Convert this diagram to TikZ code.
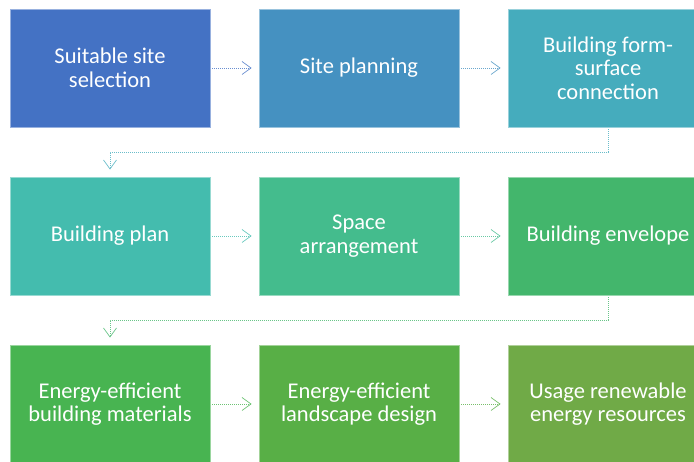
\documentclass[tikz,border=0pt]{standalone}
\usepackage{fontspec}
\setmainfont{Carlito}
\usetikzlibrary{arrows.meta}
\definecolor{c1}{HTML}{4472C4}
\definecolor{c2}{HTML}{4591C1}
\definecolor{c3}{HTML}{45ACBD}
\definecolor{c4}{HTML}{44BCAE}
\definecolor{c5}{HTML}{44BC8D}
\definecolor{c6}{HTML}{43B66C}
\definecolor{c7}{HTML}{48B451}
\definecolor{c8}{HTML}{58AF46}
\definecolor{c9}{HTML}{70AA47}
\begin{document}
\begin{tikzpicture}[x=1pt, y=1pt,
  box/.style={shape=rectangle, fill=#1, draw=#1!55!white, line width=0.8pt,
    minimum width=200pt, minimum height=118pt, inner sep=0pt, text=white,
    align=center, font=\fontsize{22.5}{23.5}\selectfont},
  link/.style={-{Straight Barb[length=9pt, width=13pt]}, draw=#1!80!white,
    line width=0.7pt, dash pattern=on 1pt off 1pt, shorten >=7pt, shorten <=2pt}]
\useasboundingbox (0,0) rectangle (694,462);
\clip (0,0) rectangle (694,462);
\node[box=c1] (1) at (110,394) {Suitable site\\selection};
\node[box=c2] (2) at (359,394) {Site planning};
\node[box=c3] (3) at (608,394) {Building form-\\surface\\connection};
\node[box=c4] (4) at (110,226) {Building plan};
\node[box=c5] (5) at (359,226) {Space\\arrangement};
\node[box=c6] (6) at (608,226) {Building envelope};
\node[box=c7] (7) at (110,58) {Energy-efficient\\building materials};
\node[box=c8] (8) at (359,58) {Energy-efficient\\landscape design};
\node[box=c9] (9) at (608,58) {Usage renewable\\energy resources};
\path [link=c1] (1) edge (2);
\path [link=c2] (2) edge (3);
\path [link=c3] (3.south) -- ++(0,-25) -| (4.north);
\path [link=c4] (4) edge (5);
\path [link=c5] (5) edge (6);
\path [link=c6] (6.south) -- ++(0,-25) -| (7.north);
\path [link=c7] (7) edge (8);
\path [link=c8] (8) edge (9);
\end{tikzpicture}
\end{document}
